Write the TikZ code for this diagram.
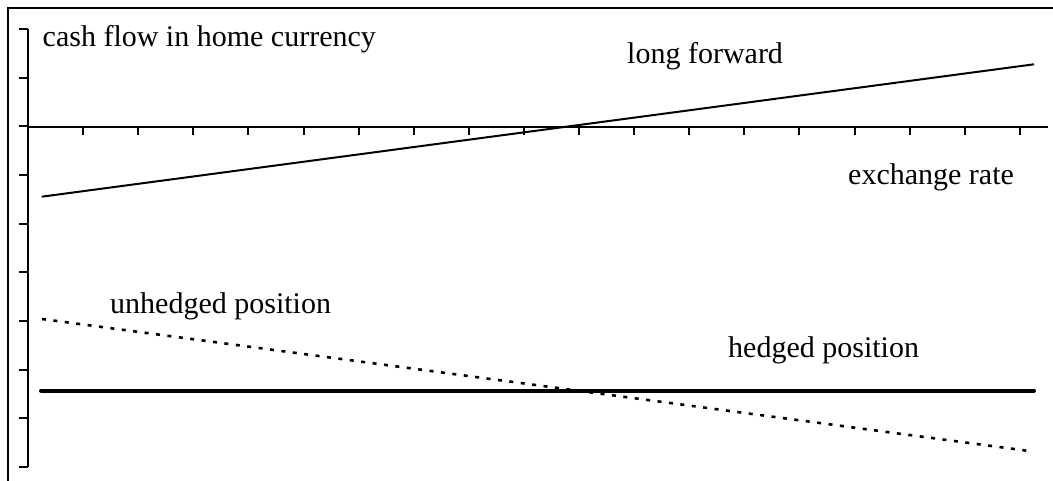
\documentclass[tikz,border=0pt]{standalone}
\usepackage{fontspec}
\setmainfont{Liberation Serif}
\begin{document}
\begin{tikzpicture}[x=1pt,y=-1pt,
  lbl/.style={anchor=base west,inner sep=0pt,font=\fontsize{30}{36}\selectfont},
  axisline/.style={line width=2pt},
  tickline/.style={line width=2pt},
  framel/.style={line width=1.5pt},
  fwd/.style={line width=2pt},
  unh/.style={line width=2.6pt,dash pattern=on 4pt off 7.5pt},
  hed/.style={line width=4pt,line cap=round}]
\useasboundingbox (0,0) rectangle (1053,481);
% frame
\coordinate (fb) at (8,481);
\coordinate (ftl) at (8,8);
\coordinate (fr) at (1053,8);
\draw[framel] (fb) -- (ftl) -- (fr);
% axes
\coordinate (ytop) at (28,29);
\coordinate (ybot) at (28,467);
\coordinate (xl) at (28,127);
\coordinate (xr) at (1048,127);
\draw[axisline] (ytop) -- (ybot);
\draw[axisline] (xl) -- (xr);
\foreach \k in {0,...,9} \draw[tickline] (19,29+\k*48.65) -- (28,29+\k*48.65);
\foreach \k in {1,...,18} \draw[tickline] (28+\k*55.1,127) -- (28+\k*55.1,135);
% curves
\coordinate (f1) at (41.7,196.7);
\coordinate (f2) at (1034,64.3);
\draw[fwd] (f1) -- (f2);
\coordinate (u1) at (42,319);
\coordinate (u2) at (1029,451);
\draw[unh] (u1) -- (u2);
\coordinate (h1) at (41,390.7);
\coordinate (h2) at (1034,390.7);
\draw[hed] (h1) -- (h2);
% labels
\node[lbl] (tcash) at (42.5,47) {cash flow in home currency};
\node[lbl] (tfwd) at (627,63.3) {long forward};
\node[lbl] (texr) at (848,184.3) {exchange rate};
\node[lbl] (tunh) at (110,313) {unhedged position};
\node[lbl] (thed) at (728,357) {hedged position};
\end{tikzpicture}
\end{document}
